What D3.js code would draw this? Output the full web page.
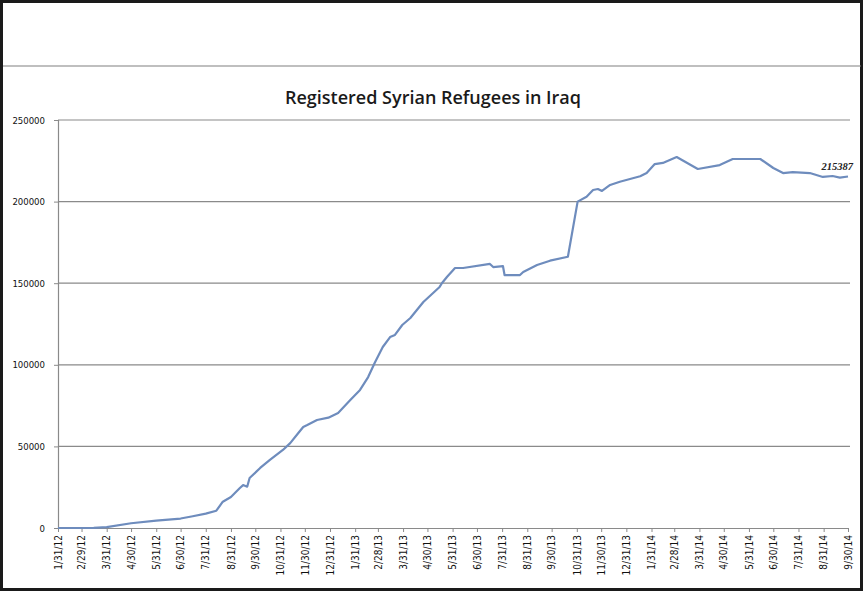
<!DOCTYPE html>
<html>
<head>
<meta charset="utf-8">
<script src="https://cdnjs.cloudflare.com/ajax/libs/d3/7.8.5/d3.min.js"></script>
<style>
  body { margin: 0; background: #fff; }
  svg { display: block; }
</style>
</head>
<body>
<svg id="chart" width="864" height="592"></svg>
<script>
// data
var dates = [
  "2012-01-31", "2012-02-29", "2012-03-15", "2012-03-31", "2012-04-30", "2012-05-31",
  "2012-06-30", "2012-07-15", "2012-07-31", "2012-08-13", "2012-08-21", "2012-08-31",
  "2012-09-11", "2012-09-15", "2012-09-20", "2012-09-23", "2012-10-06", "2012-10-18",
  "2012-11-03", "2012-11-12", "2012-11-22", "2012-11-28", "2012-12-03", "2012-12-15",
  "2012-12-29", "2013-01-10", "2013-01-25", "2013-02-06", "2013-02-16", "2013-02-24",
  "2013-03-06", "2013-03-15", "2013-03-21", "2013-03-30", "2013-04-09", "2013-04-17",
  "2013-04-25", "2013-05-07", "2013-05-15", "2013-05-18", "2013-05-24", "2013-06-03",
  "2013-06-13", "2013-07-16", "2013-07-20", "2013-08-01", "2013-08-03", "2013-08-22",
  "2013-08-26", "2013-09-12", "2013-09-28", "2013-10-20", "2013-11-01", "2013-11-12",
  "2013-11-20", "2013-11-26", "2013-12-01", "2013-12-11", "2013-12-23", "2014-01-17",
  "2014-01-25", "2014-02-04", "2014-02-14", "2014-03-03", "2014-03-29", "2014-04-25",
  "2014-05-11", "2014-06-14", "2014-06-30", "2014-07-12", "2014-07-24", "2014-08-14",
  "2014-08-30", "2014-09-11", "2014-09-20", "2014-09-30"
];
var refugees = [
  0, 0, 100, 500, 2900, 4500,
  5800, 7200, 8800, 10600, 16100, 19000,
  24500, 26300, 25300, 30600, 36800, 41700,
  47800, 52000, 58200, 61900, 63100, 66200,
  67600, 70500, 78400, 84600, 92500, 101100,
  110900, 117000, 118300, 124400, 128700, 133600,
  138500, 144000, 147700, 150100, 153800, 159300,
  159300, 161800, 159900, 160500, 155000, 155000,
  156900, 161200, 163800, 166200, 200000, 203000,
  207100, 207700, 206500, 210200, 212200, 215500,
  217500, 223000, 223700, 227300, 220000, 222400,
  226100, 226100, 220600, 217500, 218100, 217500,
  215100, 215700, 214700, 215387
];
var tickLabels = [
  "1/31/12", "2/29/12", "3/31/12", "4/30/12", "5/31/12", "6/30/12", "7/31/12", "8/31/12",
  "9/30/12", "10/31/12", "11/30/12", "12/31/12", "1/31/13", "2/28/13", "3/31/13", "4/30/13",
  "5/31/13", "6/30/13", "7/31/13", "8/31/13", "9/30/13", "10/31/13", "11/30/13", "12/31/13",
  "1/31/14", "2/28/14", "3/31/14", "4/30/14", "5/31/14", "6/30/14", "7/31/14", "8/31/14", "9/30/14"
];
var yTicks = [0, 50000, 100000, 150000, 200000, 250000];
var lastLabel = "215387";

var parse = d3.timeParse("%Y-%m-%d");
var parseTick = d3.timeParse("%m/%d/%y");
var points = dates.map(function(d, i) { return { date: parse(d), value: refugees[i] }; });
var tickDates = tickLabels.map(function(t) { return parseTick(t); });

var svg = d3.select("#chart");

// outer frame and separator line
svg.append("rect")
    .attr("x", 1.5).attr("y", 1.5)
    .attr("width", 860).attr("height", 588)
    .attr("fill", "#fff")
    .attr("stroke", "#1a1a1a")
    .attr("stroke-width", 3);
svg.append("line")
    .attr("x1", 3).attr("x2", 861)
    .attr("y1", 66).attr("y2", 66)
    .attr("stroke", "#808080")
    .attr("stroke-width", 1.2);

var margin = { left: 58, right: 16, top: 120, bottom: 64 };
var x = d3.scaleTime()
    .domain([tickDates[0], tickDates[tickDates.length - 1]])
    .range([margin.left, 848]);
var y = d3.scaleLinear()
    .domain([0, 250000])
    .range([528, margin.top]);

var tickFont = "'DejaVu Sans Condensed', 'Liberation Sans Narrow', sans-serif";

// title
svg.append("text")
    .attr("x", 433).attr("y", 104)
    .attr("text-anchor", "middle")
    .style("font-family", "'Open Sans', Lato, sans-serif")
    .style("font-size", "18px")
    .style("font-weight", "600")
    .attr("fill", "#1a1a1a")
    .text("Registered Syrian Refugees in Iraq");

// gridlines
svg.append("g")
    .selectAll("line")
    .data(yTicks.filter(function(v) { return v > 0; }))
    .enter().append("line")
    .attr("x1", margin.left).attr("x2", 850)
    .attr("y1", function(d) { return y(d); })
    .attr("y2", function(d) { return y(d); })
    .attr("stroke", "#8a8a8a")
    .attr("stroke-width", 1.2);

// y axis
var yAxis = svg.append("g")
    .attr("transform", "translate(" + margin.left + ",0)")
    .call(d3.axisLeft(y).tickValues(yTicks).tickFormat(d3.format("d")).tickSize(4).tickPadding(9));
yAxis.select(".domain").attr("stroke", "#8a8a8a").attr("stroke-width", 1.2);
yAxis.selectAll(".tick line").attr("stroke", "#8a8a8a");
yAxis.selectAll(".tick text")
    .style("font-family", tickFont)
    .style("font-size", "9.5px")
    .attr("fill", "#111");

// x axis
var xAxis = svg.append("g")
    .attr("transform", "translate(0,528)")
    .call(d3.axisBottom(x).tickValues(tickDates)
        .tickFormat(function(d, i) { return tickLabels[i]; })
        .tickSize(4).tickSizeOuter(0));
xAxis.select(".domain").attr("stroke", "#8a8a8a").attr("stroke-width", 1.2);
xAxis.selectAll(".tick line").attr("stroke", "#8a8a8a");
xAxis.selectAll(".tick text")
    .style("font-family", tickFont)
    .style("font-size", "10px")
    .attr("fill", "#111")
    .attr("transform", "rotate(-90)")
    .attr("text-anchor", "end")
    .attr("x", -7)
    .attr("y", 0)
    .attr("dy", "0.32em");

// the series
var line = d3.line()
    .x(function(d) { return x(d.date); })
    .y(function(d) { return y(d.value); });
svg.append("path")
    .datum(points)
    .attr("d", line)
    .attr("fill", "none")
    .attr("stroke", "#6e8cbd")
    .attr("stroke-width", 2.2)
    .attr("stroke-linejoin", "round");

// label on the last point
var last = points[points.length - 1];
svg.append("text")
    .attr("x", x(last.date) + 5)
    .attr("y", y(last.value) - 6)
    .attr("text-anchor", "end")
    .style("font-family", "'Liberation Serif', serif")
    .style("font-size", "10.5px")
    .style("font-style", "italic")
    .style("font-weight", "bold")
    .attr("fill", "#222")
    .text(lastLabel);
</script>
</body>
</html>
